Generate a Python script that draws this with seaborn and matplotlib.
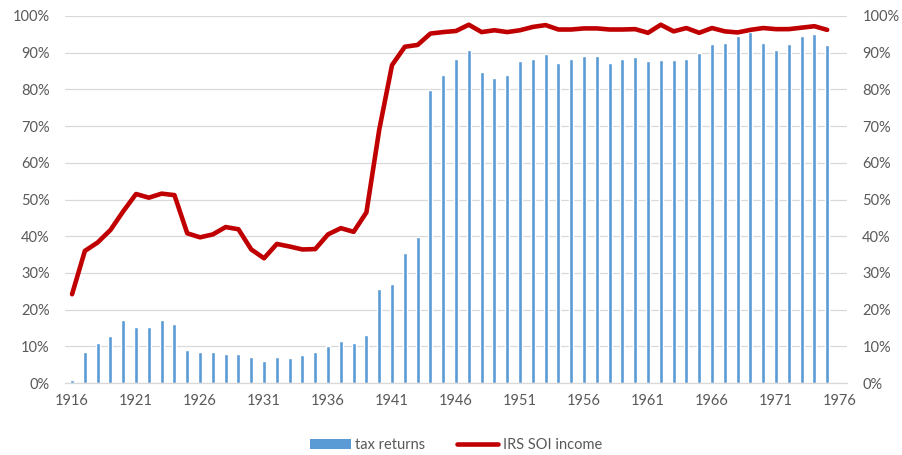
import numpy as np
import pandas as pd
import matplotlib.pyplot as plt
import seaborn as sns
from matplotlib.ticker import PercentFormatter, MultipleLocator
from matplotlib.patches import Patch
from matplotlib.lines import Line2D

# data (percent)
years = list(range(1916, 1976))

tax_returns = [
    0.8, 8.4, 10.9, 12.9, 17.2, 15.3, 15.3, 17.3, 16.1, 8.9,
    8.4, 8.4, 8.0, 8.0, 7.2, 6.0, 7.2, 6.8, 7.7, 8.4,
    10.0, 11.6, 10.9, 13.2, 25.5, 26.9, 35.4, 39.9, 79.9, 83.9,
    88.4, 90.8, 84.8, 83.1, 84.0, 87.6, 88.4, 89.7, 87.2, 88.4,
    89.2, 89.2, 87.2, 88.4, 88.8, 87.6, 87.9, 87.9, 88.4, 89.9,
    92.4, 92.7, 94.4, 95.6, 92.7, 90.8, 92.4, 94.4, 95.2, 92.0,
]

soi_income = [
    24.2, 36.0, 38.3, 41.7, 46.8, 51.5, 50.5, 51.6, 51.2, 40.8,
    39.7, 40.5, 42.5, 41.9, 36.4, 34.0, 37.9, 37.2, 36.4, 36.5,
    40.5, 42.2, 41.2, 46.5, 69.0, 86.6, 91.6, 92.1, 95.2, 95.6,
    95.9, 97.6, 95.6, 96.1, 95.6, 96.1, 97.0, 97.5, 96.3, 96.3,
    96.6, 96.6, 96.3, 96.3, 96.4, 95.4, 97.6, 95.8, 96.7, 95.4,
    96.7, 95.8, 95.5, 96.2, 96.7, 96.4, 96.4, 96.8, 97.2, 96.2,
]

xticks = list(range(1916, 1977, 5))

df = pd.DataFrame({
    'year': years,
    'tax_returns': tax_returns,
    'soi_income': soi_income,
})

blue = '#5B9BD5'
red = '#C00000'
grid_col = '#D9D9D9'
text_col = '#595959'

sns.set_style('white')
plt.rcParams['font.family'] = ['Lato', 'DejaVu Sans']

fig = plt.figure(figsize=(9.03, 4.55), dpi=100)
ax = fig.add_axes([0.072, 0.158, 0.866, 0.807])

# bars on the left axis
sns.barplot(
    data=df, x='year', y='tax_returns',
    native_scale=True, width=0.32,
    color=blue, saturation=1, ax=ax
)

# line on the right axis
ax2 = ax.twinx()
sns.lineplot(
    data=df, x='year', y='soi_income',
    color=red, lw=3.3, ax=ax2, legend=False
)

for a in (ax, ax2):
    a.set_ylim(0, 100)
    a.yaxis.set_major_locator(MultipleLocator(10))
    a.yaxis.set_major_formatter(PercentFormatter(decimals=0))
    a.set_xlim(1915.45, 1976.55)
    a.set_xlabel('')
    a.set_ylabel('')
    for s in a.spines.values():
        s.set_visible(False)
    a.tick_params(length=0, labelsize=10.5, labelcolor=text_col, pad=11)

ax.spines['bottom'].set_visible(True)
ax.spines['bottom'].set_color(grid_col)
ax.spines['bottom'].set_linewidth(0.9)

ax.set_xticks(xticks)
ax.set_xticklabels([str(t) for t in xticks])
ax.tick_params(axis='x', pad=8)

ax.yaxis.grid(True, color=grid_col, lw=0.9)
ax.set_axisbelow(True)
ax2.grid(False)

handles = [
    Patch(facecolor=blue, edgecolor='none'),
    Line2D([0], [0], color=red, lw=3.3),
]
fig.legend(
    handles, ['tax returns', 'IRS SOI income'],
    loc='center', bbox_to_anchor=(0.505, 0.022), ncol=2,
    frameon=False, fontsize=10.5, labelcolor=text_col,
    handlelength=2.8, handletextpad=0.3, columnspacing=2.2
)

fig.savefig('out.png', dpi=100)
